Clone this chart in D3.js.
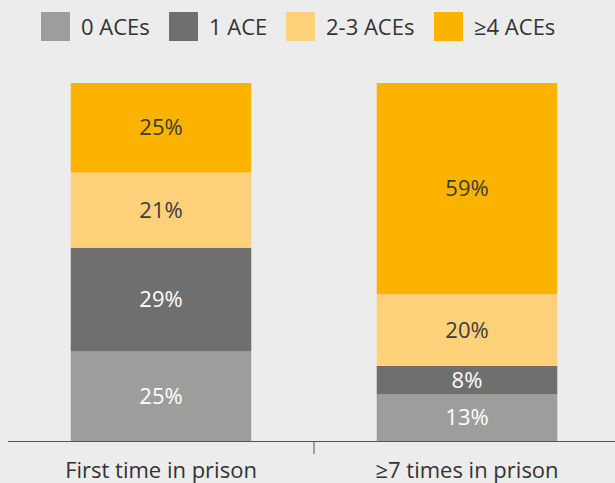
<html>
<script src='https://d3js.org/d3.v7.min.js'></script>
<head>
<style>
  body { margin:0; background:#ececec; }
  svg { display:block; font-family:'Open Sans', 'Noto Sans', sans-serif; }
</style>
</head>
<body>
<svg width=615 height=483></svg>
<script>
var groups = ["First time in prison", "\u22657 times in prison"];
var keys = ["0 ACEs", "1 ACE", "2-3 ACEs", "\u22654 ACEs"];
var ace0 = [25, 13];
var ace1 = [29, 8];
var ace23 = [21, 20];
var ace4 = [25, 59];
var colors = ["#9d9d9b", "#6f6f6f", "#fed17a", "#fbb300"];
var textColors = ["#ffffff", "#ffffff", "#3c3c3c", "#3c3c3c"];

var rows = groups.map(function(g, i) {
  return {group: g, "0 ACEs": ace0[i], "1 ACE": ace1[i], "2-3 ACEs": ace23[i], "\u22654 ACEs": ace4[i]};
});

var svg = d3.select("svg");

var x = d3.scaleBand().domain(groups).range([8, 620]).paddingInner(0.41).paddingOuter(0.205);
var y = d3.scaleLinear().domain([0, 100]).range([441, 83]);

var stack = d3.stack().keys(keys)(rows);

//bars
var layers = svg.append("g").selectAll("g").data(stack).enter().append("g")
  .attr("fill", function(d, i) { return colors[i]; });

layers.selectAll("rect").data(function(d) { return d; }).enter().append("rect")
  .attr("x", function(d) { return x(d.data.group); })
  .attr("y", function(d) { return y(d[1]); })
  .attr("width", x.bandwidth())
  .attr("height", function(d) { return y(d[0]) - y(d[1]); });

//value labels
stack.forEach(function(layer, i) {
  svg.append("g").selectAll("text").data(layer).enter().append("text")
    .attr("x", function(d) { return x(d.data.group) + x.bandwidth() / 2; })
    .attr("y", function(d) { return (y(d[0]) + y(d[1])) / 2; })
    .attr("dy", "0.35em")
    .attr("text-anchor", "middle")
    .attr("font-size", 22)
    .attr("fill", textColors[i])
    .text(function(d) { return (d[1] - d[0]) + "%"; });
});

//x axis
var xaxis = svg.append("g")
  .attr("transform", "translate(0,441)")
  .call(d3.axisBottom(x).tickSize(0).tickPadding(21));
xaxis.select(".domain").attr("stroke", "#555").attr("d", "M8,0.5H615");
xaxis.selectAll("text").attr("font-size", 22).attr("fill", "#333").attr("font-family", "'Open Sans', 'Noto Sans', sans-serif");

svg.append("line")
  .attr("x1", 314).attr("x2", 314).attr("y1", 441).attr("y2", 454)
  .attr("stroke", "#555");

//legend
var legendX = [41, 169, 286, 434];
var legend = svg.append("g").selectAll("g").data(keys).enter().append("g")
  .attr("transform", function(d, i) { return "translate(" + legendX[i] + ",12)"; });
legend.append("rect")
  .attr("width", 29).attr("height", 29)
  .attr("fill", function(d, i) { return colors[i]; });
legend.append("text")
  .attr("x", 40).attr("y", 15).attr("dy", "0.35em")
  .attr("font-size", 22).attr("fill", "#333")
  .text(function(d) { return d; });
</script>
</body>
</html>
